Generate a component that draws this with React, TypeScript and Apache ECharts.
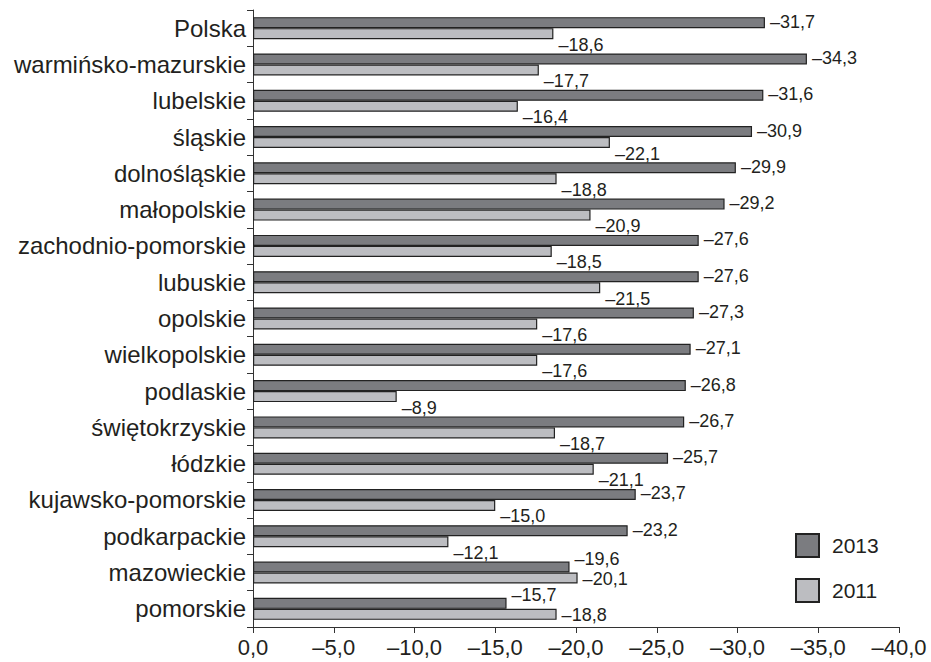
import React, { useEffect, useRef } from "react";
import * as echarts from "echarts";

const categories = [
  "Polska",
  "warmińsko-mazurskie",
  "lubelskie",
  "śląskie",
  "dolnośląskie",
  "małopolskie",
  "zachodnio-pomorskie",
  "lubuskie",
  "opolskie",
  "wielkopolskie",
  "podlaskie",
  "świętokrzyskie",
  "łódzkie",
  "kujawsko-pomorskie",
  "podkarpackie",
  "mazowieckie",
  "pomorskie",
];

const values2013 = [
  -31.7, -34.3, -31.6, -30.9, -29.9, -29.2, -27.6, -27.6, -27.3, -27.1, -26.8,
  -26.7, -25.7, -23.7, -23.2, -19.6, -15.7,
];

const values2011 = [
  -18.6, -17.7, -16.4, -22.1, -18.8, -20.9, -18.5, -21.5, -17.6, -17.6, -8.9,
  -18.7, -21.1, -15.0, -12.1, -20.1, -18.8,
];

const seriesNames = ["2013", "2011"];
const xMin = -40;
const xMax = 0;
const xInterval = 5;

const fmt = (v: number) => {
  const s = Math.abs(v).toFixed(1).replace(".", ",");
  return v < 0 ? "\u2013" + s : s;
};

const FONT = "Arial, 'Liberation Sans', Helvetica, sans-serif";
const TEXT = "#231f20";

export default function App() {
  const ref = useRef<HTMLDivElement>(null);
  useEffect(() => {
    if (!ref.current) return;
    const chart = echarts.init(ref.current, undefined, { renderer: "svg" });
    const longer2011 = values2013.map((v, i) => Math.abs(values2011[i]) > Math.abs(v));
    const data2013 = values2013.map((v, i) => ({
      value: v,
      label: { offset: longer2011[i] ? [0, -8] : [0, -1] },
    }));
    const data2011 = values2011.map((v, i) => ({
      value: v,
      label: { offset: longer2011[i] ? [0, 1] : [0, 11] },
    }));
    chart.setOption({
      animation: false,
      textStyle: { fontFamily: FONT, color: TEXT },
      grid: { left: 253, right: 32, top: 10, bottom: 35, containLabel: false },
      legend: {
        orient: "vertical",
        left: 795,
        top: 533,
        padding: 0,
        itemWidth: 23,
        itemHeight: 23,
        itemGap: 20,
        icon: "rect",
        data: seriesNames,
        textStyle: {
          fontFamily: FONT,
          fontSize: 21,
          color: TEXT,
          padding: [0, 0, 0, 8],
        },
      },
      xAxis: {
        type: "value",
        min: xMin,
        max: xMax,
        interval: xInterval,
        inverse: true,
        axisLine: { show: true, lineStyle: { color: "#333", width: 1 } },
        axisTick: { show: true, length: 6, lineStyle: { color: "#333" } },
        splitLine: { show: false },
        axisLabel: {
          formatter: (v: number) => fmt(v),
          fontFamily: FONT,
          fontSize: 22,
          color: TEXT,
          margin: 9,
        },
      },
      yAxis: {
        type: "category",
        data: categories,
        inverse: true,
        axisLine: { show: true, lineStyle: { color: "#333", width: 1 } },
        axisTick: { show: true, length: 6, lineStyle: { color: "#333" } },
        axisLabel: {
          fontFamily: FONT,
          fontSize: 24,
          color: TEXT,
          margin: 7,
        },
      },
      series: [
        {
          name: seriesNames[0],
          type: "bar",
          data: data2013,
          barWidth: 11,
          barGap: "0%",
          itemStyle: { color: "#7b7c80", borderColor: "#222", borderWidth: 1.2 },
          label: {
            show: true,
            position: "right",
            distance: 5,
            formatter: (p: any) => fmt(p.value),
            fontFamily: FONT,
            fontSize: 18,
            color: TEXT,
          },
        },
        {
          name: seriesNames[1],
          type: "bar",
          data: data2011,
          barWidth: 11,
          barGap: "0%",
          itemStyle: { color: "#bcbdc1", borderColor: "#222", borderWidth: 1.2 },
          label: {
            show: true,
            position: "right",
            distance: 5,
            formatter: (p: any) => fmt(p.value),
            fontFamily: FONT,
            fontSize: 18,
            color: TEXT,
          },
        },
      ],
    });
    return () => chart.dispose();
  }, []);
  return <div ref={ref} style={{ width: 931, height: 662, position: "absolute", left: 0, top: 0, background: "#fff" }} />;
}
